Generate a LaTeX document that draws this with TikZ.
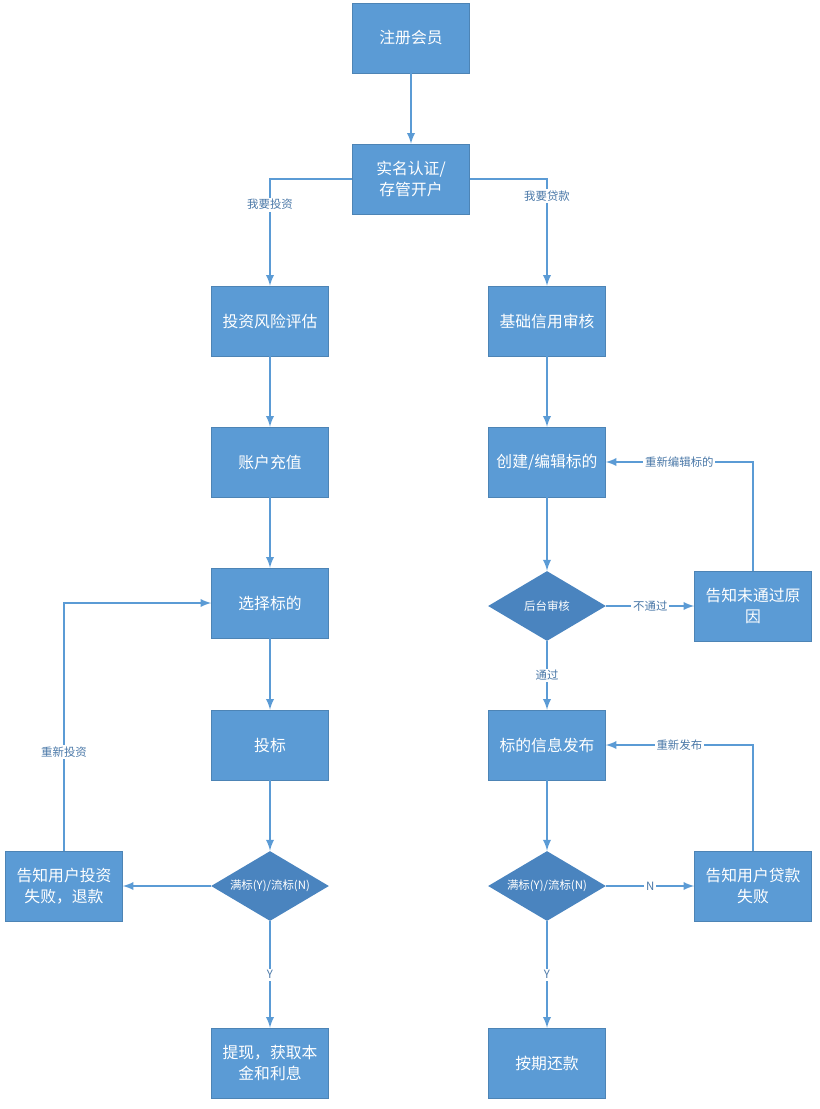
\documentclass[tikz,border=0pt]{standalone}
\usepackage{fontspec}
\setmainfont{Noto Sans CJK SC}
\usetikzlibrary{shapes.geometric,positioning}
\definecolor{boxblue}{HTML}{5B9BD5}
\definecolor{diablue}{HTML}{4A84BF}
\definecolor{lineblue}{HTML}{5B9BD5}
\definecolor{txtblue}{HTML}{4A78A8}
\begin{document}
\begin{tikzpicture}
                    [x=0.02cm,y=-0.02cm,>=latex,
                    box/.style={draw=boxblue!85!black,line width=0.3pt,fill=boxblue,text=white,minimum width=2.34cm,minimum height=1.4cm,align=center,font=\fontsize{9}{12}\selectfont,text width=2.1cm},
                    dia/.style={diamond,aspect=1.7,fill=diablue,text=white,minimum width=2.36cm,minimum height=1.4cm,inner sep=0pt,font=\fontsize{6.5}{8}\selectfont},
                    lab/.style={fill=white,text=txtblue,font=\fontsize{6.5}{8}\selectfont,inner sep=1pt},
                    conn/.style={draw=lineblue,line width=1.1pt,->}]

                    \useasboundingbox (0,0) rectangle (820,1109);

                    \node[box] (reg) at (411,38) {注册会员};
                    \node[box] (auth) at (411,179) {实名认证/\\存管开户};
                    \node[box] (risk) at (270,321) {投资风险评估};
                    \node[box] (credit) at (547,321) {基础信用审核};
                    \node[box] (charge) at (270,462) {账户充值};
                    \node[box] (create) at (547,462) {创建/编辑标的};
                    \node[box] (choose) at (270,603) {选择标的};
                    \node[dia] (check) at (547,606) {后台审核};
                    \node[box] (reject) at (753,606) {告知未通过原\\因};
                    \node[box] (bid) at (270,745) {投标};
                    \node[box] (publish) at (547,745) {标的信息发布};
                    \node[dia] (fullL) at (270,886) {满标(Y)/流标(N)};
                    \node[dia] (fullR) at (547,886) {满标(Y)/流标(N)};
                    \node[box] (refund) at (64,886) {告知用户投资\\失败，退款};
                    \node[box] (loanfail) at (753,886) {告知用户贷款\\失败};
                    \node[box] (cash) at (270,1063) {提现，获取本\\金和利息};
                    \node[box] (repay) at (547,1063) {按期还款};

                    \draw[conn] (reg) -- (auth);
                    \draw[conn] (auth.west) -| (risk.north) node[lab,pos=0.62] {我要投资};
                    \draw[conn] (auth.east) -| (credit.north) node[lab,pos=0.58] {我要贷款};
                    \draw[conn] (risk) -- (charge);
                    \draw[conn] (charge) -- (choose);
                    \draw[conn] (choose) -- (bid);
                    \draw[conn] (bid) -- (fullL);
                    \draw[conn] (fullL) -- (refund);
                    \draw[conn] (fullL) -- (cash) node[lab,midway] {Y};
                    \draw[conn] (refund.north) |- (choose.west) node[lab,pos=0.2] {重新投资};
                    \draw[conn] (credit) -- (create);
                    \draw[conn] (create) -- (check);
                    \draw[conn] (check) -- (reject) node[lab,midway] {不通过};
                    \draw[conn] (reject.north) |- (create.east) node[lab,pos=0.75] {重新编辑标的};
                    \draw[conn] (check) -- (publish) node[lab,midway] {通过};
                    \draw[conn] (publish) -- (fullR);
                    \draw[conn] (fullR) -- (loanfail) node[lab,midway] {N};
                    \draw[conn] (loanfail.north) |- (publish.east) node[lab,pos=0.75] {重新发布};
                    \draw[conn] (fullR) -- (repay) node[lab,midway] {Y};
                \end{tikzpicture}
\end{document}
